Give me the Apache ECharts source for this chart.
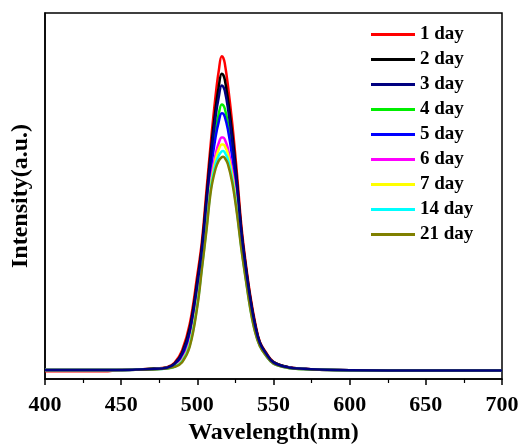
<!DOCTYPE html>
<html>
<head>
<meta charset="utf-8">
<script src="https://cdn.jsdelivr.net/npm/echarts@6/dist/echarts.min.js"></script>
<style>
  html, body { margin: 0; padding: 0; background: #fff; }
  #chart { width: 522px; height: 444px; }
</style>
</head>
<body>
<div id="chart"></div>
<script>
// wavelength grid (nm)
var wavelength = [400, 440, 445, 460, 470, 480, 485, 490, 495, 500, 503, 506, 509, 512, 514, 516, 517, 518, 520, 523, 526, 529, 532, 535, 538, 541, 545, 550, 560, 570, 580, 600, 650, 700];

// intensity (a.u.)
var day1  = [2.1, 2.1, 2.3, 2.6, 2.8, 3.2, 4.4, 7.8, 15.0, 28.4, 37.6, 51.5, 65.3, 77.5, 84.0, 88.2, 87.8, 86.3, 80.5, 69.5, 56.2, 41.5, 31.0, 22.2, 15.3, 10.2, 7.3, 4.7, 3.2, 2.8, 2.6, 2.4, 2.3, 2.3];
var day2  = [2.45, 2.45, 2.45, 2.6, 2.8, 3.1, 4.2, 7.2, 13.9, 26.9, 36.3, 49.6, 62.9, 74.0, 79.7, 83.4, 83.1, 81.8, 76.7, 66.7, 54.3, 40.4, 30.2, 21.6, 14.8, 10.0, 7.1, 4.6, 3.2, 2.8, 2.6, 2.4, 2.3, 2.3];
var day3  = [2.45, 2.45, 2.45, 2.57, 2.74, 3.1, 4.1, 6.9, 13.2, 25.9, 35.4, 48.3, 61.3, 71.7, 76.9, 80.2, 79.9, 78.8, 74.2, 64.8, 53.0, 39.7, 29.7, 21.2, 14.5, 9.9, 7.0, 4.55, 3.15, 2.77, 2.57, 2.4, 2.3, 2.3];
var day4  = [2.45, 2.45, 2.45, 2.55, 2.7, 3.1, 3.9, 6.3, 12.0, 24.3, 34.0, 46.3, 58.8, 67.9, 72.3, 75.0, 74.8, 73.9, 70.1, 61.8, 50.9, 38.5, 28.9, 20.5, 14.05, 9.6, 6.9, 4.5, 3.1, 2.75, 2.55, 2.4, 2.3, 2.3];
var day5  = [2.45, 2.45, 2.45, 2.54, 2.69, 3.0, 3.8, 6.0, 11.5, 23.6, 33.4, 45.4, 57.6, 66.2, 70.2, 72.6, 72.5, 71.7, 68.3, 60.5, 50.0, 38.0, 28.5, 20.2, 13.8, 9.5, 6.8, 4.4, 3.1, 2.74, 2.54, 2.4, 2.3, 2.3];
var day6  = [2.45, 2.45, 2.45, 2.52, 2.64, 3.0, 3.5, 5.2, 10.0, 21.5, 31.6, 42.7, 54.4, 61.4, 64.4, 66.0, 66.0, 65.5, 63.1, 56.6, 47.4, 36.4, 27.5, 19.3, 13.2, 9.2, 6.6, 4.3, 3.05, 2.72, 2.52, 2.4, 2.3, 2.3];
var day7  = [2.45, 2.45, 2.45, 2.51, 2.63, 2.95, 3.4, 5.0, 9.6, 20.9, 31.1, 42.0, 53.4, 60.0, 62.7, 64.1, 64.1, 63.7, 61.6, 55.5, 46.6, 36.0, 27.2, 19.1, 13.0, 9.15, 6.5, 4.3, 3.0, 2.7, 2.5, 2.4, 2.3, 2.3];
var day14 = [2.45, 2.45, 2.45, 2.5, 2.61, 2.9, 3.35, 4.8, 9.2, 20.3, 30.5, 41.2, 52.5, 58.7, 61.0, 62.2, 62.3, 61.9, 60.1, 54.4, 45.8, 35.6, 26.9, 18.8, 12.85, 9.1, 6.45, 4.2, 3.0, 2.7, 2.5, 2.4, 2.3, 2.3];
var day21 = [2.45, 2.45, 2.45, 2.5, 2.6, 2.9, 3.3, 4.6, 8.8, 19.8, 30.1, 40.6, 51.7, 57.5, 59.6, 60.6, 60.7, 60.4, 58.8, 53.5, 45.2, 35.2, 26.6, 18.6, 12.7, 9.0, 6.4, 4.2, 3.0, 2.7, 2.5, 2.4, 2.3, 2.3];

var seriesNames = ['1 day', '2 day', '3 day', '4 day', '5 day', '6 day', '7 day', '14 day', '21 day'];
var seriesData = [day1, day2, day3, day4, day5, day6, day7, day14, day21];
var seriesColors = ['#ff0000', '#000000', '#000080', '#00ee00', '#0000ff', '#ff00ff', '#ffff00', '#00ffff', '#808000'];
var xTicks = [400, 450, 500, 550, 600, 650, 700];

var font = "'Liberation Serif', 'Times New Roman', serif";

function pairs(ys) {
    var out = [];
    for (var i = 0; i < wavelength.length; i++) {
        out.push([wavelength[i], ys[i]]);
    }
    return out;
}

var series = [];
for (var i = 0; i < seriesNames.length; i++) {
    series.push({
        name: seriesNames[i],
        type: 'line',
        data: pairs(seriesData[i]),
        smooth: 0.4,
        showSymbol: false,
        z: seriesNames[i] == '3 day' ? 4 : 2,
        lineStyle: { color: seriesColors[i], width: 2.5 },
        itemStyle: { color: seriesColors[i] }
    });
}

var chart = echarts.init(document.getElementById('chart'));
chart.setOption({
    animation: false,
    backgroundColor: '#fff',
    grid: {
        left: 45, right: 20, top: 13, bottom: 65,
        outerBoundsMode: 'none',
        show: true, borderColor: '#000', borderWidth: 1.5
    },
    legend: {
        orient: 'vertical',
        left: 366,
        top: 20,
        itemWidth: 44,
        itemHeight: 3,
        itemGap: 6,
        icon: 'rect',
        data: seriesNames,
        textStyle: { fontFamily: font, fontWeight: 'bold', fontSize: 19, color: '#000', lineHeight: 18 }
    },
    xAxis: {
        type: 'value',
        min: xTicks[0],
        max: xTicks[xTicks.length - 1],
        interval: 50,
        name: 'Wavelength(nm)',
        nameLocation: 'middle',
        nameGap: 37,
        nameTextStyle: { fontFamily: font, fontWeight: 'bold', fontSize: 24, color: '#000' },
        axisLine: { show: true, lineStyle: { color: '#000', width: 1.5 } },
        axisTick: { show: true, inside: false, length: 6, lineStyle: { color: '#000', width: 1.5 } },
        minorTick: { show: true, splitNumber: 2, length: 4, lineStyle: { color: '#000', width: 1.2 } },
        axisLabel: { fontFamily: font, fontWeight: 'bold', fontSize: 22, color: '#000', margin: 15 },
        splitLine: { show: false }
    },
    yAxis: {
        type: 'value',
        min: 0,
        max: 100,
        name: 'Intensity(a.u.)',
        nameLocation: 'middle',
        nameGap: 12,
        nameTextStyle: { fontFamily: font, fontWeight: 'bold', fontSize: 24, color: '#000' },
        axisLine: { show: true, lineStyle: { color: '#000', width: 1.5 } },
        axisTick: { show: false },
        axisLabel: { show: false },
        splitLine: { show: false }
    },
    series: series
});
</script>
</body>
</html>
